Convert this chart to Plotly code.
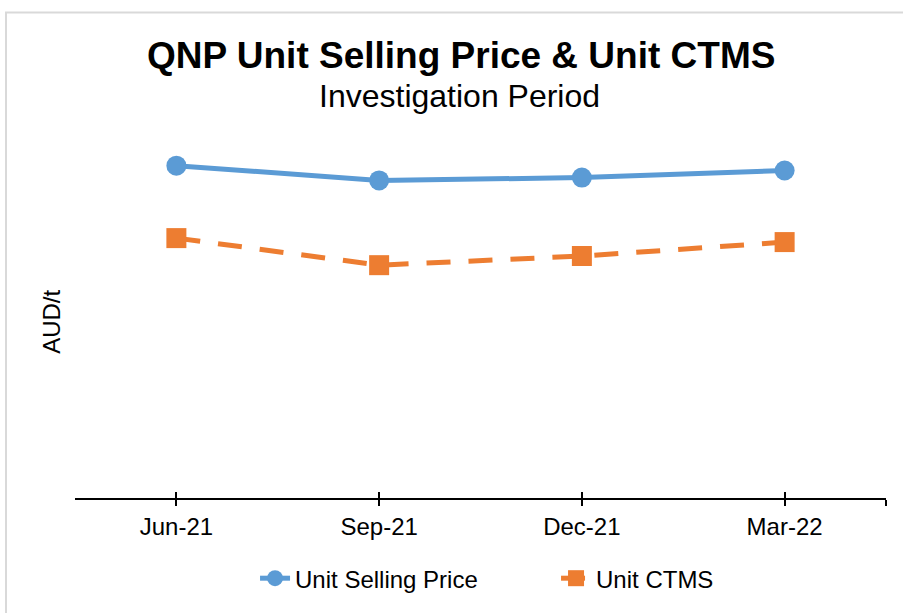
import plotly.graph_objects as go

categories = ["Jun-21", "Sep-21", "Dec-21", "Mar-22"]
selling_price = [835, 798, 805, 823]
unit_ctms = [653, 585, 608, 643]

x_pos = list(range(len(categories)))

fig = go.Figure()
fig.add_trace(go.Scatter(
    x=x_pos, y=selling_price, name="Unit Selling Price", mode="lines+markers",
    line=dict(color="#5B9BD5", width=5),
    marker=dict(symbol="circle", size=20, color="#5B9BD5"),
))
fig.add_trace(go.Scatter(
    x=x_pos, y=unit_ctms, name="Unit CTMS", mode="lines+markers",
    line=dict(color="#ED7D31", width=5, dash="24px,18px"),
    marker=dict(symbol="square", size=20, color="#ED7D31"),
))
# invisible trace to drive the overlay axis for upper tick halves
fig.add_trace(go.Scatter(x=x_pos, y=selling_price, xaxis="x2", mode="none",
                         showlegend=False, hoverinfo="skip"))

tickvals = x_pos + [len(categories) - 0.5]
ticktext = categories + [""]

fig.update_layout(
    width=903, height=613,
    paper_bgcolor="white", plot_bgcolor="white",
    margin=dict(l=75, r=17, t=100, b=113),
    font=dict(family="Liberation Sans, Arial, sans-serif", color="#000000"),
    showlegend=True,
    legend=dict(orientation="h", x=0.222, xanchor="left", y=-0.2025, yanchor="middle",
                font=dict(size=24, color="#000000"), itemwidth=30,
                entrywidth=256, traceorder="normal"),
    xaxis=dict(range=[-0.5, len(categories) - 0.5], tickmode="array",
               tickvals=tickvals, ticktext=ticktext,
               showline=True, linecolor="#000000", linewidth=2,
               ticks="outside", ticklen=6, tickwidth=2, tickcolor="#000000",
               showgrid=False, zeroline=False,
               tickfont=dict(size=24, color="#000000")),
    xaxis2=dict(range=[-0.5, len(categories) - 0.5], overlaying="x", anchor="y",
                side="bottom", tickmode="array", tickvals=tickvals,
                ticks="inside", ticklen=6, tickwidth=2, tickcolor="#000000",
                showticklabels=False, showgrid=False, zeroline=False, showline=False),
    yaxis=dict(range=[0, 1000], showticklabels=False, showgrid=False,
               zeroline=False, showline=False, ticks=""),
    shapes=[dict(type="rect", xref="paper", yref="paper",
                 x0=-0.0851, x1=1.05, y0=-0.35, y1=1.22,
                 line=dict(color="#D9D9D9", width=2), fillcolor="rgba(0,0,0,0)",
                 layer="below")],
    annotations=[
        dict(text="<b>QNP Unit Selling Price &amp; Unit CTMS</b>", xref="paper", yref="paper",
             x=0.476, y=1.1125, xanchor="center", yanchor="middle", showarrow=False,
             font=dict(size=37, color="#000000")),
        dict(text="Investigation Period", xref="paper", yref="paper",
             x=0.474, y=1.01, xanchor="center", yanchor="middle", showarrow=False,
             font=dict(size=32, color="#000000")),
        dict(text="AUD/t", xref="paper", yref="paper", x=-0.0284, y=0.4425,
             xanchor="center", yanchor="middle", textangle=-90, showarrow=False,
             font=dict(size=24, color="#000000")),
    ],
)

fig.write_html("out.html", config={"displayModeBar": False},
               post_script="document.body.style.margin='0';")
